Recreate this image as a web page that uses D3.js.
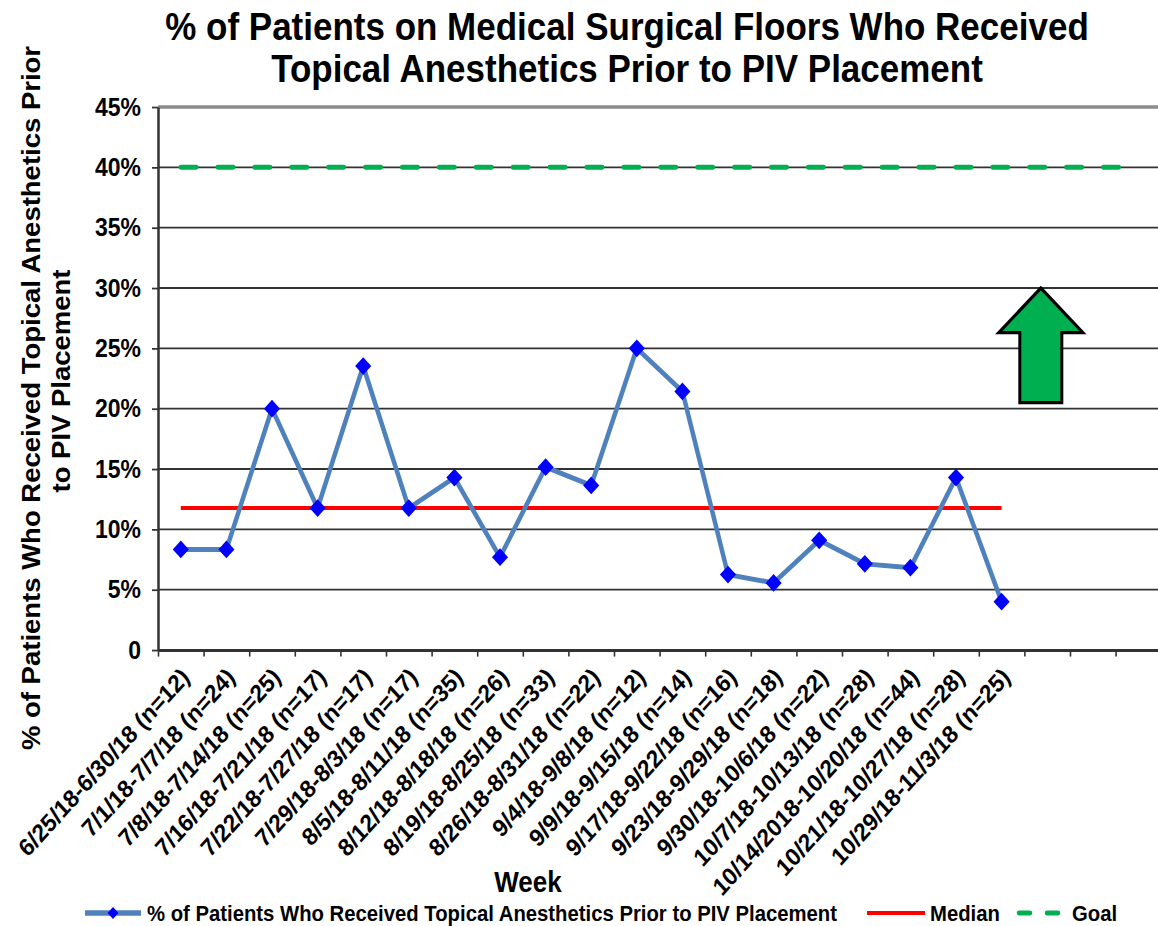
<!DOCTYPE html>
<html>
<head>
<meta charset="utf-8">
<script src="https://cdn.jsdelivr.net/npm/d3@7"></script>
<style>
  body { margin: 0; background: #fff; }
  text { font-family: "Liberation Sans", Arial, sans-serif; font-weight: bold; fill: #000; }
</style>
</head>
<body>
<div id="chart"></div>
<script>
// Weekly categories (last three slots are empty on the axis)
var weeks = [
  "6/25/18-6/30/18 (n=12)", "7/1/18-7/7/18 (n=24)", "7/8/18-7/14/18 (n=25)",
  "7/16/18-7/21/18 (n=17)", "7/22/18-7/27/18 (n=17)", "7/29/18-8/3/18 (n=17)",
  "8/5/18-8/11/18 (n=35)", "8/12/18-8/18/18 (n=26)", "8/19/18-8/25/18 (n=33)",
  "8/26/18-8/31/18 (n=22)", "9/4/18-9/8/18 (n=12)", "9/9/18-9/15/18 (n=14)",
  "9/17/18-9/22/18 (n=16)", "9/23/18-9/29/18 (n=18)", "9/30/18-10/6/18 (n=22)",
  "10/7/18-10/13/18 (n=28)", "10/14/2018-10/20/18 (n=44)", "10/21/18-10/27/18 (n=28)",
  "10/29/18-11/3/18 (n=25)", "", "", ""
];

// % of patients who received topical anesthetics
var pct = [8.33, 8.33, 20.0, 11.76, 23.53, 11.76, 14.29, 7.69, 15.15, 13.64,
  25.0, 21.43, 6.25, 5.56, 9.09, 7.14, 6.82, 14.29, 4.0];

var medianValue = d3.median(pct);
var goalValue = 40;
var goalCount = 22; // goal line runs across every slot

var yTicks = [0, 5, 10, 15, 20, 25, 30, 35, 40, 45];

var seriesName = "% of Patients Who Received Topical Anesthetics Prior to PIV Placement";

// The picture is slightly stretched vertically, so draw in a shorter box
var W = 1158, H = 926, stretch = 1.1;
var h = H / stretch;

var svg = d3.select("#chart").append("svg")
  .attr("width", W)
  .attr("height", H)
  .attr("viewBox", "0 0 " + W + " " + h)
  .attr("preserveAspectRatio", "none");

var plotLeft = 158, step = 45.6;
var plotRight = plotLeft + step * weeks.length;
var plotTop = 107 / stretch, plotBottom = 650 / stretch;

// edge scale for tick marks, center = edge + 0.5
var xEdge = d3.scaleLinear().domain([0, weeks.length]).range([plotLeft, plotRight]);
var xc = function(i) { return xEdge(i + 0.5); };

var y = d3.scaleLinear().domain([0, 45]).range([plotBottom, plotTop]);

// Title
var title = svg.append("text")
  .attr("text-anchor", "middle")
  .style("font-size", "35px");
title.append("tspan").attr("x", 627).attr("y", 40 / stretch)
  .text("% of Patients on Medical Surgical Floors Who Received");
title.append("tspan").attr("x", 627).attr("y", 82 / stretch)
  .text("Topical Anesthetics Prior to PIV Placement");

// Gridlines
svg.append("g")
  .selectAll("line")
  .data(yTicks.filter(function(d) { return d > 0; }))
  .enter()
  .append("line")
  .attr("x1", plotLeft)
  .attr("x2", plotRight)
  .attr("y1", function(d) { return y(d); })
  .attr("y2", function(d) { return y(d); })
  .attr("stroke", function(d) { return d === 45 ? "#8c8c8c" : "#333"; })
  .attr("stroke-width", function(d) { return d === 45 ? 3 : 1.6; });

// Y axis
var yAxis = svg.append("g")
  .attr("transform", "translate(" + plotLeft + ",0)")
  .call(d3.axisLeft(y)
    .tickValues(yTicks)
    .tickSizeInner(6)
    .tickSizeOuter(0)
    .tickPadding(11)
    .tickFormat(function(d) { return d === 0 ? "0" : d + "%"; }));
yAxis.select(".domain").attr("stroke", "#333").attr("stroke-width", 2.5);
yAxis.selectAll(".tick line").attr("stroke", "#333").attr("stroke-width", 1.6);
yAxis.selectAll(".tick text")
  .style("font-size", "23px")
  .style("font-family", "'Liberation Sans', Arial, sans-serif")
  .style("font-weight", "bold")
  .attr("fill", "#000");

// X axis (ticks between categories)
var xAxis = svg.append("g")
  .attr("transform", "translate(0," + plotBottom + ")")
  .call(d3.axisBottom(xEdge)
    .tickValues(d3.range(weeks.length + 1))
    .tickSizeInner(6)
    .tickSizeOuter(0)
    .tickFormat(""));
xAxis.select(".domain").attr("stroke", "#333").attr("stroke-width", 2.8);
xAxis.selectAll(".tick line").attr("stroke", "#333").attr("stroke-width", 1.6);

// Category labels, rotated
svg.append("g")
  .selectAll("text")
  .data(weeks)
  .enter()
  .append("text")
  .attr("transform", function(d, i) {
    return "translate(" + (xc(i) + 10) + "," + (plotBottom + 26) + ") rotate(-45)";
  })
  .attr("text-anchor", "end")
  .style("font-size", "22.5px")
  .text(function(d) { return d; });

// Axis titles
svg.append("text")
  .attr("transform", "translate(40," + 398 / stretch + ") rotate(-90)")
  .attr("text-anchor", "middle")
  .style("font-size", "25px")
  .text("% of Patients Who Received Topical Anesthetics Prior");
svg.append("text")
  .attr("transform", "translate(70," + 381 / stretch + ") rotate(-90)")
  .attr("text-anchor", "middle")
  .style("font-size", "25px")
  .text("to PIV Placement");

svg.append("text")
  .attr("x", 528)
  .attr("y", 892 / stretch)
  .attr("text-anchor", "middle")
  .style("font-size", "26px")
  .text("Week");

// Shared line generator over category centers
var catLine = d3.line()
  .x(function(d, i) { return xc(i); })
  .y(function(d) { return y(d); });

// Goal line
svg.append("path")
  .datum(d3.range(goalCount).map(function() { return goalValue; }))
  .attr("d", catLine)
  .attr("fill", "none")
  .attr("stroke", "#00B050")
  .attr("stroke-width", 4.5)
  .attr("stroke-linecap", "round")
  .attr("stroke-dasharray", "15.5,21.4");

// Median line
svg.append("path")
  .datum(pct.map(function() { return medianValue; }))
  .attr("d", catLine)
  .attr("fill", "none")
  .attr("stroke", "#FF0000")
  .attr("stroke-width", 3.6);

// Data line
svg.append("path")
  .datum(pct)
  .attr("d", catLine)
  .attr("fill", "none")
  .attr("stroke", "#4F81BD")
  .attr("stroke-width", 4.5)
  .attr("stroke-linejoin", "round");

var diamond = d3.symbol().type(d3.symbolSquare).size(130);

svg.append("g")
  .selectAll("path")
  .data(pct)
  .enter()
  .append("path")
  .attr("d", diamond)
  .attr("transform", function(d, i) {
    return "translate(" + xc(i) + "," + y(d) + ") rotate(45)";
  })
  .attr("fill", "#0000FF");

// Up arrow
var ax = xEdge(19.36);
var arrowPts = [
  [ax, y(30)], [ax + 42, y(26.3)], [ax + 21, y(26.3)], [ax + 21, y(20.5)],
  [ax - 21, y(20.5)], [ax - 21, y(26.3)], [ax - 42, y(26.3)]
];
svg.append("path")
  .attr("d", d3.line()(arrowPts) + "Z")
  .attr("fill", "#00B050")
  .attr("stroke", "#000")
  .attr("stroke-width", 3)
  .attr("stroke-linejoin", "miter");

// Legend
var ly = 913 / stretch;
var legend = svg.append("g");

legend.append("line")
  .attr("x1", 85).attr("x2", 141).attr("y1", ly).attr("y2", ly)
  .attr("stroke", "#4F81BD").attr("stroke-width", 5);
legend.append("path")
  .attr("d", d3.symbol().type(d3.symbolSquare).size(60))
  .attr("transform", "translate(113," + ly + ") rotate(45)")
  .attr("fill", "#0000FF");
legend.append("text")
  .attr("x", 147).attr("y", ly + 7)
  .style("font-size", "20.3px")
  .text(seriesName);

legend.append("line")
  .attr("x1", 867).attr("x2", 925).attr("y1", ly).attr("y2", ly)
  .attr("stroke", "#FF0000").attr("stroke-width", 3.6);
legend.append("text")
  .attr("x", 930).attr("y", ly + 7)
  .style("font-size", "20.3px")
  .text("Median");

legend.append("line")
  .attr("x1", 1019).attr("x2", 1063).attr("y1", ly).attr("y2", ly)
  .attr("stroke", "#00B050").attr("stroke-width", 4.5)
  .attr("stroke-linecap", "round")
  .attr("stroke-dasharray", "11,17");
legend.append("text")
  .attr("x", 1072).attr("y", ly + 7)
  .style("font-size", "20.3px")
  .text("Goal");
</script>
</body>
</html>
